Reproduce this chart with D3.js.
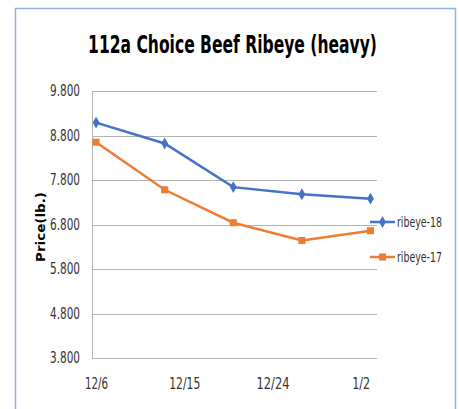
<!DOCTYPE html>
<html>
<head>
<meta charset="utf-8">
<script src="https://cdn.jsdelivr.net/npm/d3@7"></script>
<style>
  body { margin: 0; background: #fff; }
  text { font-family: "DejaVu Sans Condensed", "Liberation Sans", sans-serif; }
</style>
</head>
<body>
<div id="chart"></div>
<script>
// chart size
var w = 459;
var h = 409;

// data
var dates = ["2018-12-06", "2018-12-13", "2018-12-20", "2018-12-27", "2019-01-03"];
var ribeye18 = [9.09, 8.62, 7.64, 7.48, 7.38];
var ribeye17 = [8.65, 7.58, 6.84, 6.44, 6.66];
var yTicks = [3.8, 4.8, 5.8, 6.8, 7.8, 8.8, 9.8];
var xTicks = ["2018-12-06", "2018-12-15", "2018-12-24", "2019-01-02"];
var seriesNames = ["ribeye-18", "ribeye-17"];

var parse = d3.timeParse("%Y-%m-%d");
var series = [
  { name: seriesNames[0], values: ribeye18, color: "#4472c4", symbol: d3.symbolDiamond },
  { name: seriesNames[1], values: ribeye17, color: "#ed7d31", symbol: d3.symbolSquare }
];

var svg = d3.select("#chart")
  .append("svg")
  .attr("width", w)
  .attr("height", h);

// outer frame
svg.append("rect")
  .attr("x", 15.5)
  .attr("y", 8.5)
  .attr("width", 440)
  .attr("height", 420)
  .attr("fill", "none")
  .attr("stroke", "#8eb4e3")
  .attr("stroke-width", 1.5);

// title: narrow it with a horizontal scale so it spans the same width as the original
var titleG = svg.append("g");
var title = titleG.append("text")
  .attr("text-anchor", "middle")
  .style("font-size", "25px")
  .style("font-weight", "bold")
  .text("112a Choice Beef Ribeye (heavy)");
var tw = title.node().getComputedTextLength();
titleG.attr("transform", "translate(232.5,53) scale(" + Math.min(1, 289 / tw) + ",1)");

// scales
var xScale = d3.scaleTime()
  .domain([d3.timeHour.offset(parse("2018-12-06"), -10), d3.timeHour.offset(parse("2019-01-03"), 16)])
  .range([92, 377]);

var yScale = d3.scaleLinear()
  .domain([3.8, 9.8])
  .range([358, 91]);

// gridlines
svg.append("g")
  .selectAll("line")
  .data(yTicks)
  .join("line")
  .attr("x1", 92)
  .attr("x2", 377)
  .attr("y1", d => Math.round(yScale(d)) + 0.5)
  .attr("y2", d => Math.round(yScale(d)) + 0.5)
  .attr("stroke", "#b3b3b3")
  .attr("stroke-width", 1);

// left axis line
svg.append("line")
  .attr("x1", 92.5).attr("x2", 92.5)
  .attr("y1", 91).attr("y2", 359)
  .attr("stroke", "#b3b3b3");

// y axis labels
var yAxis = d3.axisLeft(yScale)
  .tickValues(yTicks)
  .tickFormat(d3.format(".3f"))
  .tickSize(0)
  .tickPadding(12);

svg.append("g")
  .attr("transform", "translate(92,0)")
  .call(yAxis)
  .call(g => g.select(".domain").remove())
  .selectAll("text")
  .style("font-size", "15px")
  .attr("textLength", 30)
  .attr("lengthAdjust", "spacingAndGlyphs")
  .attr("fill", "#333");

// x axis labels
var xAxis = d3.axisBottom(xScale)
  .tickValues(xTicks.map(parse))
  .tickFormat(d3.timeFormat("%-m/%-d"))
  .tickSize(0)
  .tickPadding(20);

var xLabelWidths = [23, 31, 33, 18];

svg.append("g")
  .attr("transform", "translate(0,358)")
  .call(xAxis)
  .call(g => g.select(".domain").remove())
  .selectAll("text")
  .style("font-size", "16px")
  .attr("textLength", (d, i) => xLabelWidths[i])
  .attr("lengthAdjust", "spacingAndGlyphs")
  .attr("fill", "#333");

// y axis title
svg.append("text")
  .attr("transform", "translate(45,227) rotate(-90)")
  .attr("text-anchor", "middle")
  .attr("textLength", 70)
  .attr("lengthAdjust", "spacingAndGlyphs")
  .style("font-family", "'DejaVu Sans', sans-serif")
  .style("font-weight", "bold")
  .style("font-size", "13px")
  .text("Price(lb.)");

// lines
var line = d3.line()
  .x((d, i) => xScale(parse(dates[i])))
  .y(d => yScale(d));

series.forEach(function(s) {
  svg.append("path")
    .datum(s.values)
    .attr("fill", "none")
    .attr("stroke", s.color)
    .attr("stroke-width", 2.5)
    .attr("d", line);

  svg.append("g")
    .selectAll("path")
    .data(s.values)
    .join("path")
    .attr("transform", (d, i) => "translate(" + xScale(parse(dates[i])) + "," + yScale(d) + ")")
    .attr("d", d3.symbol().type(s.symbol).size(s.symbol === d3.symbolSquare ? 50 : 40))
    .attr("fill", s.color);
});

// legend
var legend = svg.append("g")
  .selectAll("g")
  .data(series)
  .join("g")
  .attr("transform", (d, i) => "translate(370," + (222 + i * 35) + ")");

legend.append("line")
  .attr("x1", 0).attr("x2", 25)
  .attr("stroke", d => d.color)
  .attr("stroke-width", 2.5);

legend.append("path")
  .attr("transform", "translate(12.5,0)")
  .attr("d", d => d3.symbol().type(d.symbol).size(d.symbol === d3.symbolSquare ? 50 : 40)())
  .attr("fill", d => d.color);

legend.append("text")
  .attr("x", 27)
  .attr("dy", "0.35em")
  .attr("textLength", 45)
  .attr("lengthAdjust", "spacingAndGlyphs")
  .style("font-size", "14px")
  .attr("fill", "#333")
  .text(d => d.name);
</script>
</body>
</html>
